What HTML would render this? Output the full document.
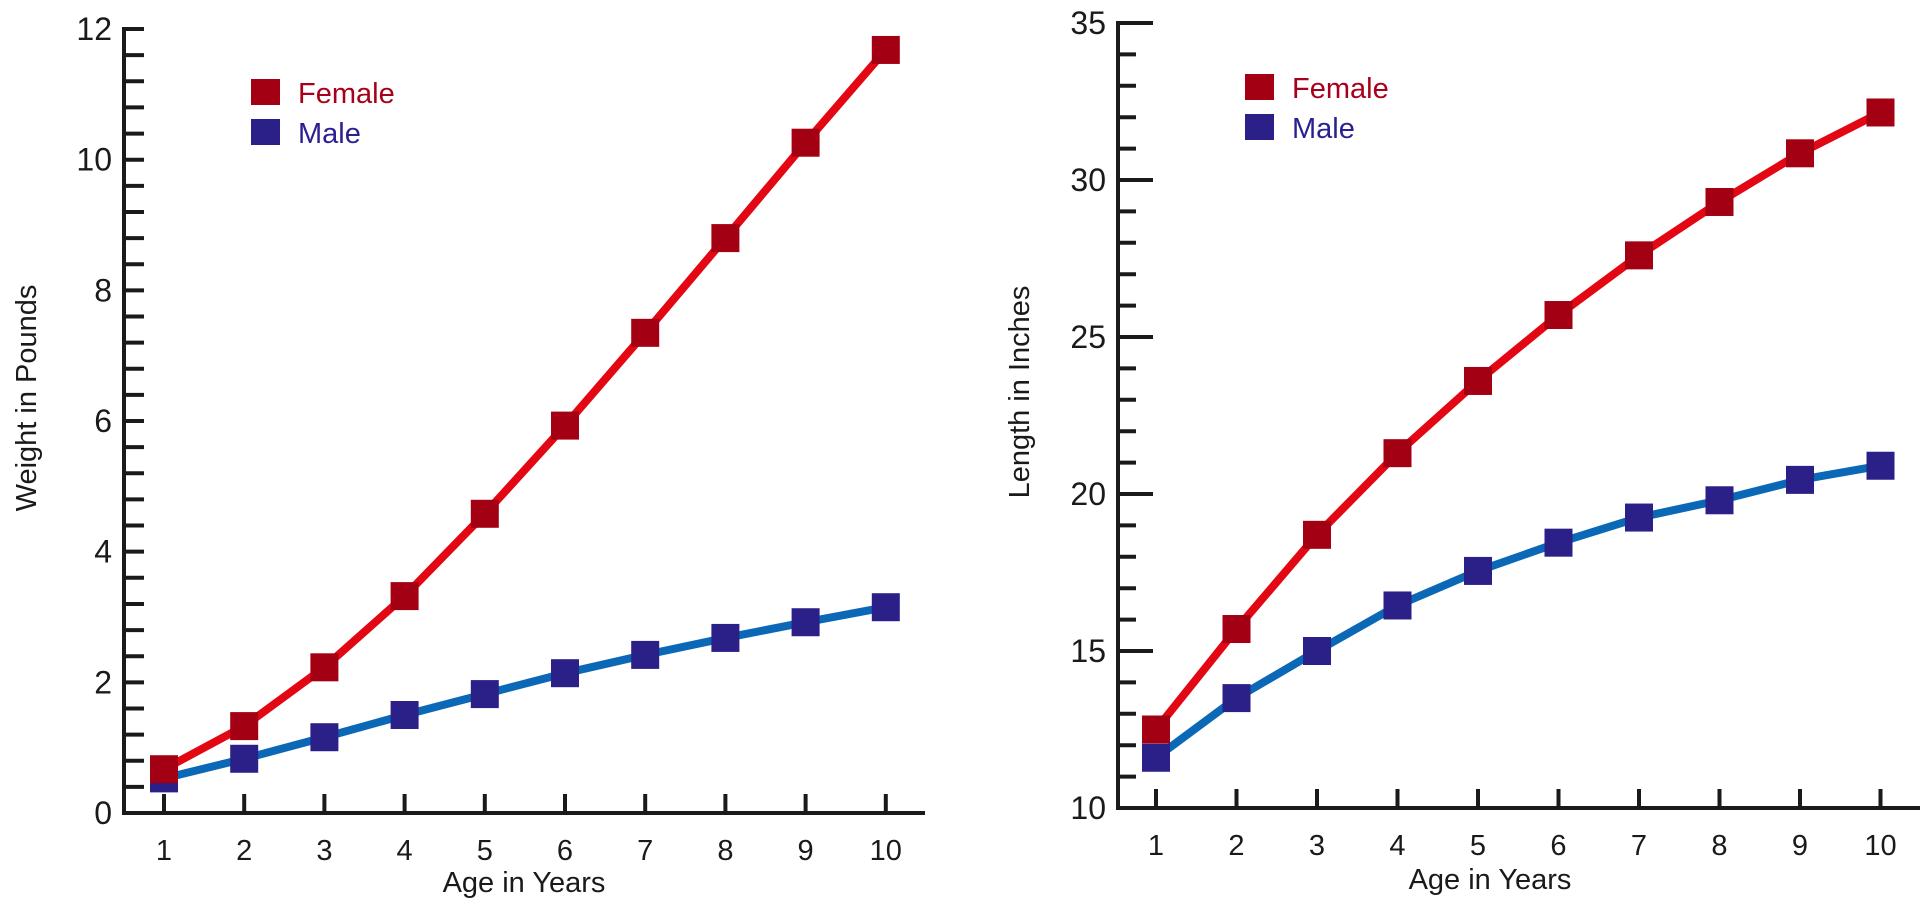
<!DOCTYPE html>
<html><head><meta charset="utf-8"><style>
html,body{margin:0;padding:0;background:#fff;}
svg{display:block;font-family:"Liberation Sans",sans-serif;}
</style></head><body>
<svg id="chart" width="1920" height="909" viewBox="0 0 1920 909" xmlns="http://www.w3.org/2000/svg"></svg>
<script>
const ages = [1,2,3,4,5,6,7,8,9,10];
const weightFemale = [0.67,1.33,2.23,3.32,4.58,5.93,7.35,8.8,10.26,11.68];
const weightMale = [0.53,0.83,1.16,1.5,1.82,2.14,2.42,2.68,2.92,3.15];
const lengthFemale = [12.5,15.7,18.7,21.3,23.6,25.7,27.6,29.3,30.85,32.15];
const lengthMale = [11.6,13.5,15.0,16.45,17.55,18.45,19.25,19.8,20.45,20.9];
const weightTicks = [0,2,4,6,8,10,12];
const lengthTicks = [10,15,20,25,30,35];

const NS='http://www.w3.org/2000/svg';
const svg=document.getElementById('chart');
function mk(tag,attrs,parent){const e=document.createElementNS(NS,tag);for(const k in attrs)e.setAttribute(k,attrs[k]);(parent||svg).appendChild(e);return e;}

function drawPanel(p){
  const g=mk('g',{});
  
  
  const xs=a=>p.x1+(a-ages[0])*p.dx;
  const ys=v=>p.y0-(v-p.ymin)*p.py;
  for(let v=p.ymin;v<=p.ymax+1e-6;v+=p.minor){
    const major=Math.abs(Math.round(v/p.major)*p.major-v)<1e-6;
    const t=mk('line',{x1:p.ax,x2:p.ax+(major?p.majLen:p.minLen),y1:ys(v),y2:ys(v),stroke:'#1a1a1a','stroke-width':4},g);
    
    
  }
  p.ticks.forEach(v=>{
    const t=mk('text',{x:p.ax-12,y:ys(v)+11,'text-anchor':'end','font-size':32,fill:'#1a1a1a'},g);
    t.textContent=v;
    
    
  });
  ages.forEach(a=>{
    const t=mk('line',{x1:xs(a),x2:xs(a),y1:p.y0,y2:p.y0-19,stroke:'#1a1a1a','stroke-width':4},g);
    
    
    const l=mk('text',{x:xs(a),y:p.y0+47,'text-anchor':'middle','font-size':29,fill:'#1a1a1a'},g);
    l.textContent=a;
    
    
  });
  const ya=mk('line',{x1:p.ax,x2:p.ax,y1:ys(p.ymax)-2,y2:p.y0+2,stroke:'#1a1a1a','stroke-width':4},g);
  
  
  const xa=mk('line',{x1:p.ax-2,x2:p.xend,y1:p.y0,y2:p.y0,stroke:'#1a1a1a','stroke-width':4},g);
  
  
  const xt=mk('text',{x:p.xtx,y:p.xty,'text-anchor':'middle','font-size':29,fill:'#1a1a1a'},g);
  xt.textContent='Age in Years';
  
  
  const yt=mk('text',{x:0,y:0,'text-anchor':'middle','font-size':29,fill:'#1a1a1a',transform:`translate(${p.ytx},${p.yty}) rotate(-90)`},g);
  yt.textContent=p.ytitle;
  
  
  [[p.male,'#0a68b6','#2b1f88','male'],[p.female,'#e30613','#a30014','female']].forEach(([vals,lc,mc,nm])=>{
    const pl=mk('polyline',{points:vals.map((v,i)=>xs(ages[i])+','+ys(v)).join(' '),fill:'none',stroke:lc,'stroke-width':8,'stroke-linejoin':'round'},g);
    
    
    vals.forEach((v,i)=>{
      const r=mk('rect',{x:xs(ages[i])-14,y:ys(v)-14,width:28,height:28,fill:mc},g);
      
      
    });
  });
  [['Female','#a30014','#a8001a',0],['Male','#2b1f88','#2a2090',40]].forEach(([lab,sc,tc,off])=>{
    const r=mk('rect',{x:p.lx,y:p.ly+off,width:29,height:26,fill:sc},g);
    
    
    const t=mk('text',{x:p.lx+47,y:p.ly+off+24,'font-size':29,fill:tc},g);
    t.textContent=lab;
    
    
  });
}
drawPanel({name:'weight-chart',ax:124,x1:164,dx:80.2,y0:813,ymin:0,ymax:12,py:65.33,minor:0.4,major:2,majLen:20,minLen:20,ticks:weightTicks,xend:925,xtx:524,xty:892,ytx:36,yty:398,ytitle:'Weight in Pounds',female:weightFemale,male:weightMale,lx:251,ly:79});
drawPanel({name:'length-chart',ax:1118,x1:1156,dx:80.5,y0:808,ymin:10,ymax:35,py:31.4,minor:1,major:5,majLen:35,minLen:18,ticks:lengthTicks,xend:1920,xtx:1490,xty:889,ytx:1029,yty:392,ytitle:'Length in Inches',female:lengthFemale,male:lengthMale,lx:1245,ly:74});
</script>
</body></html>
